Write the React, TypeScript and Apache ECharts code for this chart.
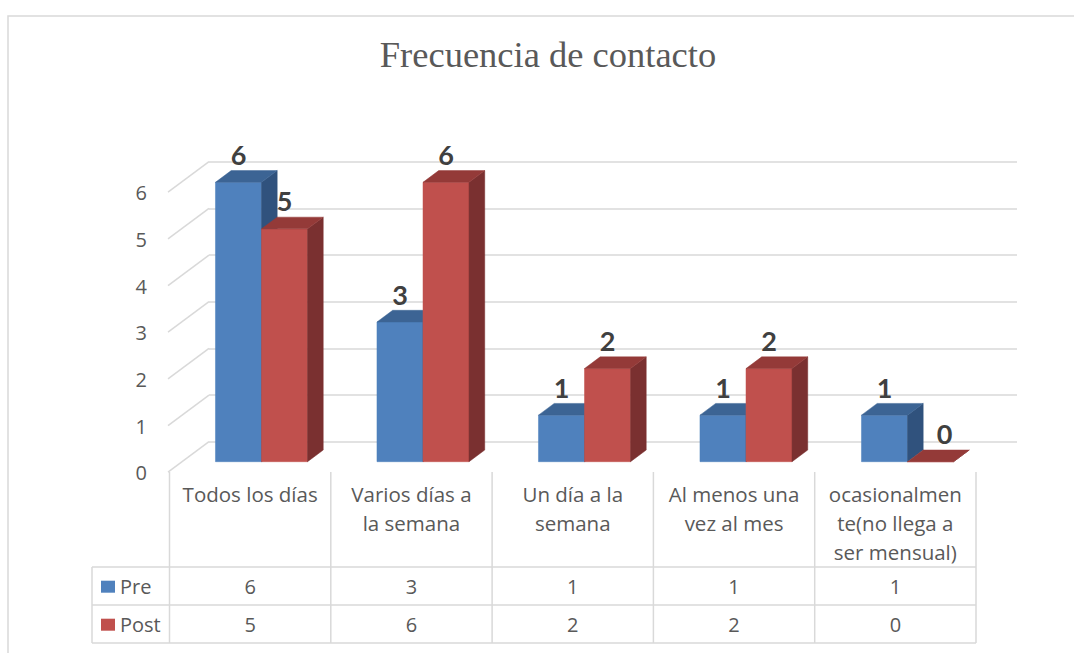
import React, { useEffect, useRef } from "react";
import * as echarts from "echarts";

const TITLE = "Frecuencia de contacto";
const categories = [
  "Todos los días",
  "Varios días a\nla semana",
  "Un día a la\nsemana",
  "Al menos una\nvez al mes",
  "ocasionalmen\nte(no llega a\nser mensual)",
];
const seriesNames = ["Pre", "Post"];
const preValues = [6, 3, 1, 1, 1];
const postValues = [5, 6, 2, 2, 0];
const yTicks = [0, 1, 2, 3, 4, 5, 6];

const FONT = "'Open Sans', Lato, sans-serif";
const LABEL_FONT = "Lato, 'Open Sans', sans-serif";
const TXT = "#595959";
const GRID = "#d9d9d9";

const COLORS = [
  { front: "#4f81bd", side: "#30527d", top: "#3c6494" },
  { front: "#c0504d", side: "#7a3030", top: "#943a38" },
];
const DX = 15.7;
const DY = -11.7;
const BAR_FRAC = 0.285;

function barSeries(idx: number, values: number[]) {
  const c = COLORS[idx];
  return {
    type: "custom",
    name: seriesNames[idx],
    xAxisIndex: 0,
    yAxisIndex: 0,
    data: values.map((v, i) => [i, v]),
    renderItem: (params: any, api: any) => {
      const cat = api.value(0);
      const v = api.value(1);
      const base = api.coord([cat, 0]);
      const top = api.coord([cat, v]);
      const band = api.size([1, 0])[0];
      const w = band * BAR_FRAC;
      const x0 = idx === 0 ? base[0] - w : base[0];
      const x1 = x0 + w;
      const yT = top[1];
      const yB = base[1];
      return {
        type: "group",
        children: [
          {
            type: "polygon",
            shape: { points: [[x0, yB], [x1, yB], [x1, yT], [x0, yT]] },
            style: { fill: c.front, stroke: c.front, lineWidth: 0.5 },
          },
          {
            type: "polygon",
            shape: { points: [[x1, yB], [x1 + DX, yB + DY], [x1 + DX, yT + DY], [x1, yT]] },
            style: { fill: c.side, stroke: c.side, lineWidth: 0.5 },
          },
          {
            type: "polygon",
            shape: { points: [[x0, yT], [x1, yT], [x1 + DX, yT + DY], [x0 + DX, yT + DY]] },
            style: { fill: c.top, stroke: c.top, lineWidth: 0.5 },
          },
          {
            type: "text",
            style: {
              text: String(v),
              x: (x0 + x1) / 2 + (v === 0 ? 14 : 0),
              y: yT - 28,
              fill: "#404040",
              fontFamily: LABEL_FONT,
              fontWeight: "bold",
              fontSize: 27,
              align: "center",
              verticalAlign: "middle",
            },
          },
        ],
      };
    },
  };
}

export default function App() {
  const ref = useRef<HTMLDivElement>(null);
  useEffect(() => {
    if (!ref.current) return;
    const chart = echarts.init(ref.current, undefined, { renderer: "svg" });
    const option: any = {
      animation: false,
      backgroundColor: "#ffffff",
      grid: [
        { left: 180.75, right: 85.75, top: 182.3, bottom: 191.3 },
        { left: 209, right: 57, top: 161.7, bottom: 211.3 },
        { left: 169.5, right: 98, top: 472, bottom: 10 },
      ],
      xAxis: [
        { gridIndex: 0, type: "category", data: categories, show: false },
        { gridIndex: 1, type: "value", min: 0, max: 1, show: false },
        { gridIndex: 2, type: "category", data: categories, show: false },
      ],
      yAxis: [
        { gridIndex: 0, type: "value", min: 0, max: 6, show: false },
        {
          gridIndex: 1,
          type: "value",
          min: 0,
          max: 6,
          interval: 1,
          axisLine: { show: false },
          axisTick: { show: false },
          axisLabel: { show: false },
          splitLine: { show: true, lineStyle: { color: GRID, width: 1.5 } },
        },
        { gridIndex: 2, type: "value", min: 0, max: 1, show: false },
      ],
      graphic: [
        {
          type: "rect",
          shape: { x: 8, y: 16, width: 1200, height: 1000 },
          style: { fill: "none", stroke: GRID, lineWidth: 1.5 },
          silent: true,
        },
        {
          type: "text",
          x: 548,
          y: 54,
          style: {
            text: TITLE,
            fill: TXT,
            fontFamily: "'Liberation Serif', 'Times New Roman', serif",
            fontSize: 36.5,
            align: "center",
            verticalAlign: "middle",
          },
        },
        ...[567, 605, 643].map((y) => ({
          type: "line",
          shape: { x1: 92, y1: y, x2: 976, y2: y },
          style: { stroke: GRID, lineWidth: 1.5 },
        })),
        {
          type: "line",
          shape: { x1: 92, y1: 567, x2: 92, y2: 643 },
          style: { stroke: GRID, lineWidth: 1.5 },
        },
        ...seriesNames.flatMap((name, i) => [
          {
            type: "rect",
            shape: { x: 101, y: 580.7 + i * 38, width: 14, height: 12 },
            style: { fill: COLORS[i].front },
          },
          {
            type: "text",
            x: 120,
            y: 586 + i * 38,
            style: {
              text: name,
              fill: TXT,
              fontFamily: FONT,
              fontSize: 20,
              align: "left",
              verticalAlign: "middle",
            },
          },
        ]),
      ],
      series: [
        {
          type: "custom",
          xAxisIndex: 1,
          yAxisIndex: 1,
          silent: true,
          data: yTicks.map((t) => [0, t]),
          renderItem: (params: any, api: any) => {
            const t = api.value(1);
            const p = api.coord([0, t]);
            return {
              type: "group",
              children: [
                {
                  type: "line",
                  shape: { x1: p[0], y1: p[1], x2: p[0] - 41, y2: p[1] + 30.5 },
                  style: { stroke: GRID, lineWidth: 1.5 },
                },
                {
                  type: "text",
                  style: {
                    text: String(t),
                    x: p[0] - 62,
                    y: p[1] + 31,
                    fill: TXT,
                    fontFamily: FONT,
                    fontSize: 20,
                    align: "right",
                    verticalAlign: "middle",
                  },
                },
              ],
            };
          },
        },
        barSeries(0, preValues),
        barSeries(1, postValues),
        {
          type: "custom",
          xAxisIndex: 2,
          yAxisIndex: 2,
          silent: true,
          data: categories.map((_, i) => [i, preValues[i], postValues[i]]),
          renderItem: (params: any, api: any) => {
            const i = api.value(0);
            const c = api.coord([i, 1]);
            const b = api.coord([i, 0]);
            const band = api.size([1, 0])[0];
            const xl = c[0] - band / 2;
            const xr = c[0] + band / 2;
            const children: any[] = [
              {
                type: "line",
                shape: { x1: xl, y1: c[1], x2: xl, y2: b[1] },
                style: { stroke: GRID, lineWidth: 1.5 },
              },
              {
                type: "text",
                style: {
                  text: categories[i],
                  x: c[0],
                  y: c[1] + 7.5,
                  fill: TXT,
                  fontFamily: FONT,
                  fontSize: 20.5,
                  lineHeight: 29,
                  align: "center",
                  verticalAlign: "top",
                },
              },
              {
                type: "text",
                style: {
                  text: String(api.value(1)),
                  x: c[0],
                  y: 586,
                  fill: TXT,
                  fontFamily: FONT,
                  fontSize: 20,
                  align: "center",
                  verticalAlign: "middle",
                },
              },
              {
                type: "text",
                style: {
                  text: String(api.value(2)),
                  x: c[0],
                  y: 624,
                  fill: TXT,
                  fontFamily: FONT,
                  fontSize: 20,
                  align: "center",
                  verticalAlign: "middle",
                },
              },
            ];
            if (i === categories.length - 1) {
              children.push({
                type: "line",
                shape: { x1: xr, y1: c[1], x2: xr, y2: b[1] },
                style: { stroke: GRID, lineWidth: 1.5 },
              });
            }
            return { type: "group", children };
          },
        },
      ],
    };
    chart.setOption(option);
    return () => chart.dispose();
  }, []);
  return (
    <div
      ref={ref}
      style={{ position: "fixed", left: 0, top: 0, width: 1074, height: 653, background: "#fff" }}
    />
  );
}
